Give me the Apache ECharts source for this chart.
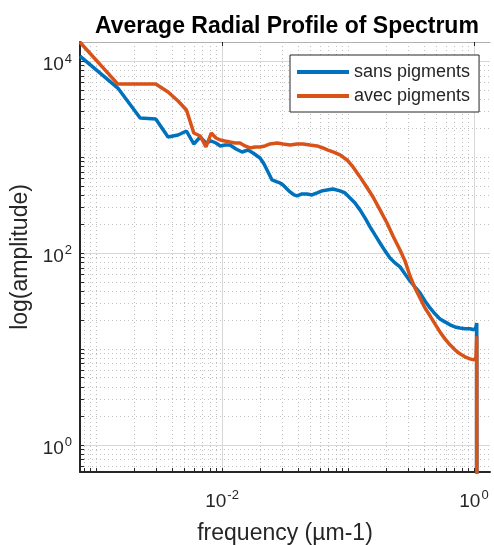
<!DOCTYPE html>
<html>
<head>
<meta charset="utf-8">
<script src="https://cdn.jsdelivr.net/npm/echarts@6/dist/echarts.min.js"></script>
<style>
html, body { margin: 0; padding: 0; background: #fff; }
#main { width: 494px; height: 545px; }
</style>
</head>
<body>
<div id="main"></div>
<script>
// sans pigments (blue)
var sansFreq = [0.000746, 0.00149, 0.00224, 0.00298, 0.00373, 0.00448, 0.00522, 0.00597, 0.00671, 0.00746,
	0.00821, 0.00895, 0.0097, 0.01056, 0.01157, 0.01292, 0.01443, 0.01608, 0.01763, 0.02004,
	0.02155, 0.02277, 0.02406, 0.02494, 0.02733, 0.02887, 0.0305, 0.0328, 0.03467, 0.03727,
	0.0394, 0.04313, 0.0473, 0.0518, 0.0568, 0.0622, 0.0681, 0.076, 0.0864, 0.0947,
	0.1038, 0.1137, 0.1245, 0.1364, 0.1496, 0.1638, 0.1795, 0.1967, 0.2155, 0.236,
	0.2588, 0.2835, 0.3105, 0.34, 0.3727, 0.4085, 0.4477, 0.49, 0.537, 0.5886,
	0.645, 0.7066, 0.774, 0.848, 0.929, 1.0, 1.037, 1.052, 1.056];
var sansAmp = [11270, 5230, 2550, 2490, 1616, 1695, 1866, 1366, 1616, 1399,
	1468, 1399, 1303, 1334, 1334, 1211, 1128, 1182, 1101, 977,
	845, 733, 634, 576, 549, 536, 511, 464, 432, 402,
	393, 412, 412, 402, 422, 443, 453, 464, 443, 422,
	374, 332, 281, 232, 187, 154, 127, 105, 88.7, 78.7,
	71.5, 60.4, 51.1, 44.2, 38.3, 31.6, 26.7, 23.2, 20.5, 19.1,
	17.8, 16.9, 16.5, 16.2, 16.2, 15.8, 16.8, 18.6, 0.01];

// avec pigments (orange)
var avecFreq = [0.000746, 0.00149, 0.00224, 0.00298, 0.00373, 0.00448, 0.00522, 0.00597, 0.00671, 0.00746,
	0.00821, 0.00895, 0.0097, 0.01056, 0.01157, 0.01269, 0.01389, 0.01522, 0.01668, 0.01828,
	0.02004, 0.02195, 0.02406, 0.02733, 0.0305, 0.03467, 0.0394, 0.04393, 0.04993, 0.0568,
	0.0633, 0.0694, 0.076, 0.0864, 0.0982, 0.1096, 0.1245, 0.139, 0.158, 0.1795,
	0.204, 0.2276, 0.2588, 0.2835, 0.3105, 0.34, 0.3727, 0.4085, 0.4477, 0.49,
	0.537, 0.5886, 0.645, 0.7066, 0.774, 0.848, 0.929, 1.0, 1.037, 1.052, 1.056];
var avecAmp = [15700, 5750, 5750, 5754, 4757, 3831, 3089, 1778, 1656, 1271,
	1778, 1577, 1503, 1468, 1433, 1399, 1399, 1303, 1241, 1271,
	1271, 1303, 1366, 1399, 1366, 1334, 1366, 1366, 1334, 1303,
	1241, 1182, 1128, 1050, 931, 787, 620, 499, 383, 281,
	205, 150, 107, 82.5, 57.5, 43.2, 34.0, 26.7, 22.1, 18.2,
	15.0, 12.7, 11.0, 9.77, 8.87, 8.26, 7.86, 7.68, 8.06, 13.5, 0.01];

// ticks
var xMajor = [0.01, 1];
var xMinor = [0.0008, 0.0009, 0.001, 0.002, 0.003, 0.004, 0.005, 0.006, 0.007, 0.008, 0.009,
	0.01, 0.02, 0.03, 0.04, 0.05, 0.06, 0.07, 0.08, 0.09,
	0.1, 0.2, 0.3, 0.4, 0.5, 0.6, 0.7, 0.8, 0.9, 1];
var yMajor = [1, 100, 10000];
var yMinor = [0.6, 0.7, 0.8, 0.9, 1, 2, 3, 4, 5, 6, 7, 8, 9,
	10, 20, 30, 40, 50, 60, 70, 80, 90,
	100, 200, 300, 400, 500, 600, 700, 800, 900,
	1000, 2000, 3000, 4000, 5000, 6000, 7000, 8000, 9000, 10000];

var xMin = 0.000746, xMax = 1.34;
var yMin = 0.52, yMax = 15800;

var font = '"Liberation Sans", Arial, sans-serif';
var ink = '#262626';

function zip(a, b) {
	var out = [];
	for (var i = 0; i < a.length; i++) out.push([a[i], b[i]]);
	return out;
}

// 10^n labels
function powLabel(v) {
	var e = Math.round(Math.log(v) / Math.LN10);
	return '{b|10}{s|' + e + '}';
}
var rich = {
	b: { fontSize: 19, color: ink, fontFamily: font },
	s: { fontSize: 13, color: ink, fontFamily: font, padding: [0, 0, 12, 1] }
};

var chart = echarts.init(document.getElementById('main'));
chart.setOption({
	animation: false,
	backgroundColor: '#fff',
	title: {
		text: 'Average Radial Profile of Spectrum',
		left: 90,
		top: 10,
		textStyle: { fontFamily: font, fontSize: 23, fontWeight: 'bold', color: '#000' }
	},
	legend: {
		orient: 'vertical',
		left: 290,
		top: 55,
		padding: [8, 9, 7, 7],
		icon: 'rect',
		itemWidth: 52,
		itemHeight: 4,
		itemGap: 6,
		backgroundColor: '#fff',
		borderColor: ink,
		borderWidth: 1,
		textStyle: { fontFamily: font, fontSize: 18, color: ink },
		data: ['sans pigments', 'avec pigments']
	},
	grid: { left: 80, right: 4, top: 42, bottom: 73, containLabel: false, outerBoundsMode: 'none' },
	xAxis: [{
		type: 'log',
		logBase: 10,
		min: xMin,
		max: xMax,
		position: 'bottom',
		name: 'frequency (µm-1)',
		nameLocation: 'middle',
		nameGap: 50,
		nameTextStyle: { fontFamily: font, fontSize: 23, color: ink },
		axisLine: { show: true, onZero: false, lineStyle: { color: ink, width: 2 } },
		axisTick: { show: true, inside: true, length: 4, customValues: xMinor, lineStyle: { color: ink } },
		axisLabel: { customValues: xMajor, formatter: powLabel, rich: rich, margin: 17 },
		splitLine: { show: true, lineStyle: { color: '#c0c0c0', type: [1, 3], width: 1 } },
		minorTick: { show: false }
	}, {
		type: 'log',
		logBase: 10,
		min: xMin,
		max: xMax,
		position: 'top',
		axisLine: { show: true, onZero: false, lineStyle: { color: '#b0b0b0', width: 1 } },
		axisTick: { show: true, inside: true, length: 4, customValues: xMajor, lineStyle: { color: ink } },
		axisLabel: { show: false },
		splitLine: { show: true, lineStyle: { color: '#d8d8d8', width: 1 } }
	}],
	yAxis: [{
		type: 'log',
		logBase: 10,
		min: yMin,
		max: yMax,
		position: 'left',
		name: 'log(amplitude)',
		nameLocation: 'middle',
		nameGap: 46,
		nameTextStyle: { fontFamily: font, fontSize: 23, color: ink },
		axisLine: { show: true, onZero: false, lineStyle: { color: ink, width: 2 } },
		axisTick: { show: true, inside: true, length: 4, customValues: yMinor, lineStyle: { color: ink } },
		axisLabel: { customValues: yMajor, formatter: powLabel, rich: rich, margin: 8, padding: [8, 0, 0, 0] },
		splitLine: { show: true, lineStyle: { color: '#c0c0c0', type: [1, 3], width: 1 } }
	}, {
		type: 'log',
		logBase: 10,
		min: yMin,
		max: yMax,
		position: 'right',
		axisLine: { show: false },
		axisTick: { show: false, customValues: yMajor },
		axisLabel: { show: false },
		splitLine: { show: true, lineStyle: { color: '#d8d8d8', width: 1 } }
	}],
	series: [{
		name: 'sans pigments',
		type: 'line',
		xAxisIndex: 0,
		yAxisIndex: 0,
		symbol: 'none',
		color: '#0072BD',
		lineStyle: { width: 3.5, color: '#0072BD' },
		data: zip(sansFreq, sansAmp)
	}, {
		name: 'avec pigments',
		type: 'line',
		xAxisIndex: 0,
		yAxisIndex: 0,
		symbol: 'none',
		color: '#D95319',
		lineStyle: { width: 3.5, color: '#D95319' },
		data: zip(avecFreq, avecAmp)
	}]
});
</script>
</body>
</html>
